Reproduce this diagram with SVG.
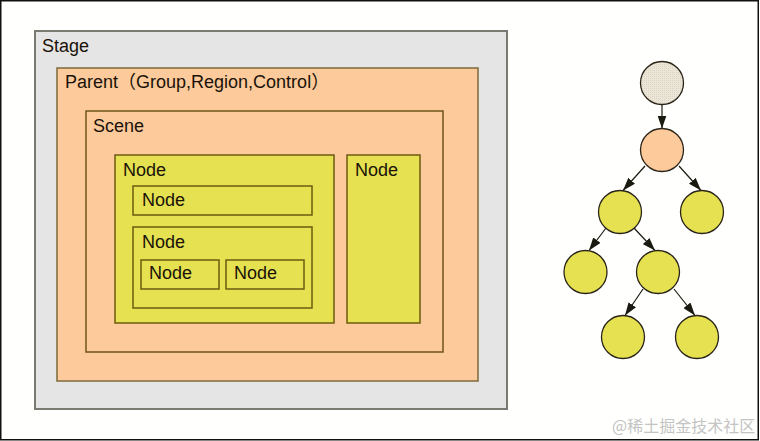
<svg xmlns="http://www.w3.org/2000/svg" width="760" height="441" viewBox="0 0 760 441">
<defs>
<style>
text{font-family:"Liberation Sans",Arial,"Noto Sans CJK SC",sans-serif;font-size:18px;fill:#1a1208}
.stage{fill:#e5e5e5;stroke:#7a7a72;stroke-width:2}
.parent{fill:#fdca9b;stroke:#7e6a3a;stroke-width:1.5}
.scene{fill:#fdca9b;stroke:#6e5518;stroke-width:1.5}
.node{fill:#e5e150;stroke:#6e5a10;stroke-width:1.5}
.c-root{fill:url(#stip);stroke:#2a2418;stroke-width:1.3}
.c-parent{fill:#fdca9b;stroke:#2a2418;stroke-width:1.3}
.c-node{fill:#e5e150;stroke:#2a2418;stroke-width:1.3}
.edge{stroke:#1a1a10;stroke-width:1.2;fill:none;marker-end:url(#arr)}
.wm{font-family:"Noto Sans CJK SC","Liberation Sans",sans-serif;font-size:16px;fill:#c4c4c4}
</style>
<pattern id="stip" width="2" height="2" patternUnits="userSpaceOnUse">
<rect width="2" height="2" fill="#ece6d9"/>
<rect width="1" height="1" fill="#ddd5c4"/>
</pattern>
<marker id="arr" viewBox="0 0 13 9" refX="13" refY="4.5" markerWidth="13" markerHeight="9" markerUnits="userSpaceOnUse" orient="auto">
<path d="M0,0 L13,4.5 L0,9 Z" fill="#1a1a10"/>
</marker>
</defs>
<rect x="0" y="0" width="760" height="441" fill="#fffffd"/>
<rect x="0.75" y="0.75" width="757.5" height="439" fill="none" stroke="#111" stroke-width="1.5"/>

<g id="stage"><rect class="stage" x="35" y="31" width="472" height="378"/><text x="42" y="52">Stage</text></g>
<g id="parent"><rect class="parent" x="57" y="68" width="421" height="313"/><text x="65" y="88">Parent（Group,Region,Control）</text></g>
<g id="scene"><rect class="scene" x="86" y="111" width="357" height="241"/><text x="93" y="132">Scene</text></g>
<g id="node-a"><rect class="node" x="115" y="155" width="219" height="168"/><text x="123" y="176">Node</text></g>
<g id="node-a1"><rect class="node" x="133" y="186" width="179" height="29"/><text x="142" y="206">Node</text></g>
<g id="node-a2"><rect class="node" x="133" y="227" width="179" height="81"/><text x="142" y="248">Node</text></g>
<g id="node-a2a"><rect class="node" x="141" y="260" width="78" height="29"/><text x="149" y="279">Node</text></g>
<g id="node-a2b"><rect class="node" x="226" y="260" width="78" height="29"/><text x="234" y="279">Node</text></g>
<g id="node-b"><rect class="node" x="347" y="155" width="73" height="168"/><text x="355" y="176">Node</text></g>

<g id="connectors">
<line class="edge" x1="662" y1="104.5" x2="662" y2="128.5"/>
<line class="edge" x1="645" y1="166" x2="623" y2="190.5"/>
<line class="edge" x1="679" y1="166" x2="701" y2="190.5"/>
<line class="edge" x1="606" y1="228" x2="589" y2="250.5"/>
<line class="edge" x1="634" y1="228" x2="655" y2="250.5"/>
<line class="edge" x1="643" y1="289" x2="625" y2="315.5"/>
<line class="edge" x1="674" y1="289" x2="695" y2="315.5"/>
</g>

<g id="t-root"><circle class="c-root" cx="662" cy="83" r="21.5"/></g>
<g id="t-parent"><circle class="c-parent" cx="662" cy="150" r="21.5"/></g>
<g id="t-n1"><circle class="c-node" cx="620" cy="212" r="21.5"/></g>
<g id="t-n2"><circle class="c-node" cx="702" cy="212" r="21.5"/></g>
<g id="t-n3"><circle class="c-node" cx="585.5" cy="272" r="21.5"/></g>
<g id="t-n4"><circle class="c-node" cx="658" cy="272" r="21.5"/></g>
<g id="t-n5"><circle class="c-node" cx="623" cy="337" r="21.5"/></g>
<g id="t-n6"><circle class="c-node" cx="697" cy="337" r="21.5"/></g>

<text class="wm" x="612" y="432">@稀土掘金技术社区</text>
</svg>
